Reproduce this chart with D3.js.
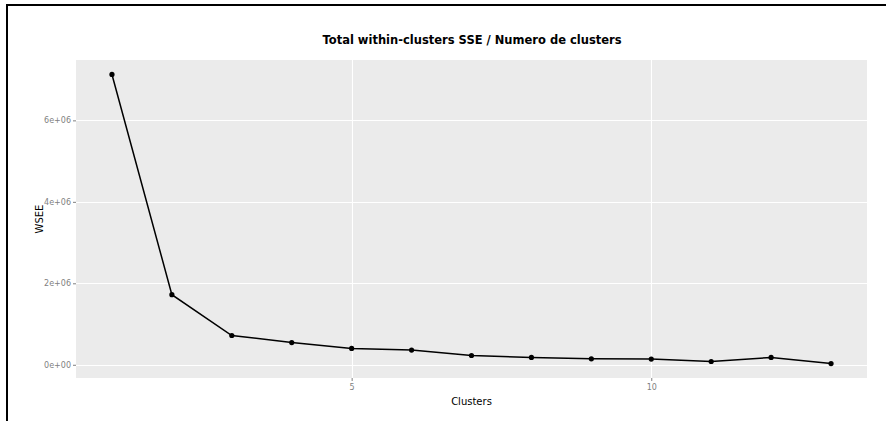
<!DOCTYPE html>
<html>
<head>
<meta charset="utf-8">
<script src="https://cdn.jsdelivr.net/npm/d3@7"></script>
<style>
html,body{margin:0;padding:0;background:#fff;}
svg{display:block;}
</style>
</head>
<body>
<svg id="chart" width="886" height="421"></svg>
<script>
const clusters = [1,2,3,4,5,6,7,8,9,10,11,12,13];
const wsee = [7127000,1720000,718000,546000,400000,360000,228000,180000,147000,140000,80000,180000,30000];
const xTicks = [5,10];
const yTicks = [0,2000000,4000000,6000000];
const yTickLabels = ["0e+00","2e+06","4e+06","6e+06"];
const titleText = "Total within-clusters SSE / Numero de clusters";
const xLabel = "Clusters";
const yLabel = "WSEE";

const svg = d3.select("#chart");
const panel = {left:76, right:867, top:60, bottom:378};

// frame lines
svg.append("line").attr("x1",7).attr("x2",886).attr("y1",5).attr("y2",5).attr("stroke","#000").attr("stroke-width",2);
svg.append("line").attr("x1",7).attr("x2",7).attr("y1",4).attr("y2",421).attr("stroke","#000").attr("stroke-width",2);

const xExt = d3.extent(clusters), xPad = (xExt[1]-xExt[0])*0.05;
const yExt = d3.extent(wsee), yPad = (yExt[1]-yExt[0])*0.05;
const x = d3.scaleLinear().domain([xExt[0]-xPad, xExt[1]+xPad]).range([panel.left, panel.right]);
const y = d3.scaleLinear().domain([yExt[0]-yPad, yExt[1]+yPad]).range([panel.bottom, panel.top]);

svg.append("rect").attr("x",panel.left).attr("y",panel.top)
  .attr("width",panel.right-panel.left).attr("height",panel.bottom-panel.top).attr("fill","#ebebeb");

// grid
const g = svg.append("g");
g.selectAll(".gy").data(yTicks).enter().append("line")
  .attr("x1",panel.left).attr("x2",panel.right)
  .attr("y1",d=>Math.round(y(d))+0.5).attr("y2",d=>Math.round(y(d))+0.5)
  .attr("stroke","#fff").attr("stroke-width",1.1);
g.selectAll(".gx").data(xTicks).enter().append("line")
  .attr("y1",panel.top).attr("y2",panel.bottom)
  .attr("x1",d=>Math.round(x(d))+0.5).attr("x2",d=>Math.round(x(d))+0.5)
  .attr("stroke","#fff").attr("stroke-width",1.1);

// axes
const yAxis = d3.axisLeft(y).tickValues(yTicks).tickSize(3).tickPadding(2)
  .tickFormat((d,i)=>yTickLabels[i]);
const ya = svg.append("g").attr("transform",`translate(${panel.left},0)`).call(yAxis);
ya.select(".domain").remove();
ya.selectAll(".tick line").attr("stroke","#7f7f7f");
ya.selectAll(".tick text").attr("fill","#7f7f7f").style("font-family","DejaVu Sans, Verdana, sans-serif").style("font-size","8px");

const xAxis = d3.axisBottom(x).tickValues(xTicks).tickSize(3).tickPadding(3).tickFormat(d3.format("d"));
const xa = svg.append("g").attr("transform",`translate(0,${panel.bottom})`).call(xAxis);
xa.select(".domain").remove();
xa.selectAll(".tick line").attr("stroke","#7f7f7f");
xa.selectAll(".tick text").attr("fill","#7f7f7f").style("font-family","DejaVu Sans, Verdana, sans-serif").style("font-size","8px");

// line + points
const line = d3.line().x((d,i)=>x(clusters[i])).y(d=>y(d));
svg.append("path").datum(wsee).attr("d",line).attr("fill","none").attr("stroke","#000").attr("stroke-width",1.5);
svg.selectAll(".pt").data(wsee).enter().append("circle")
  .attr("cx",(d,i)=>x(clusters[i])).attr("cy",d=>y(d)).attr("r",2.6).attr("fill","#000");

// title
svg.append("text").attr("x",472).attr("y",44)
  .attr("text-anchor","middle").style("font-family","DejaVu Sans, Verdana, sans-serif")
  .style("font-weight","bold").style("font-size","11.5px").attr("fill","#000").text(titleText);

svg.append("text").attr("x",(panel.left+panel.right)/2).attr("y",405)
  .attr("text-anchor","middle").style("font-family","DejaVu Sans, Verdana, sans-serif")
  .style("font-size","10px").attr("fill","#000").text(xLabel);

svg.append("text").attr("transform",`translate(43,${(panel.top+panel.bottom)/2}) rotate(-90)`)
  .attr("text-anchor","middle").style("font-family","DejaVu Sans, Verdana, sans-serif")
  .style("font-size","10px").attr("fill","#000").text(yLabel);
</script>
</body>
</html>
